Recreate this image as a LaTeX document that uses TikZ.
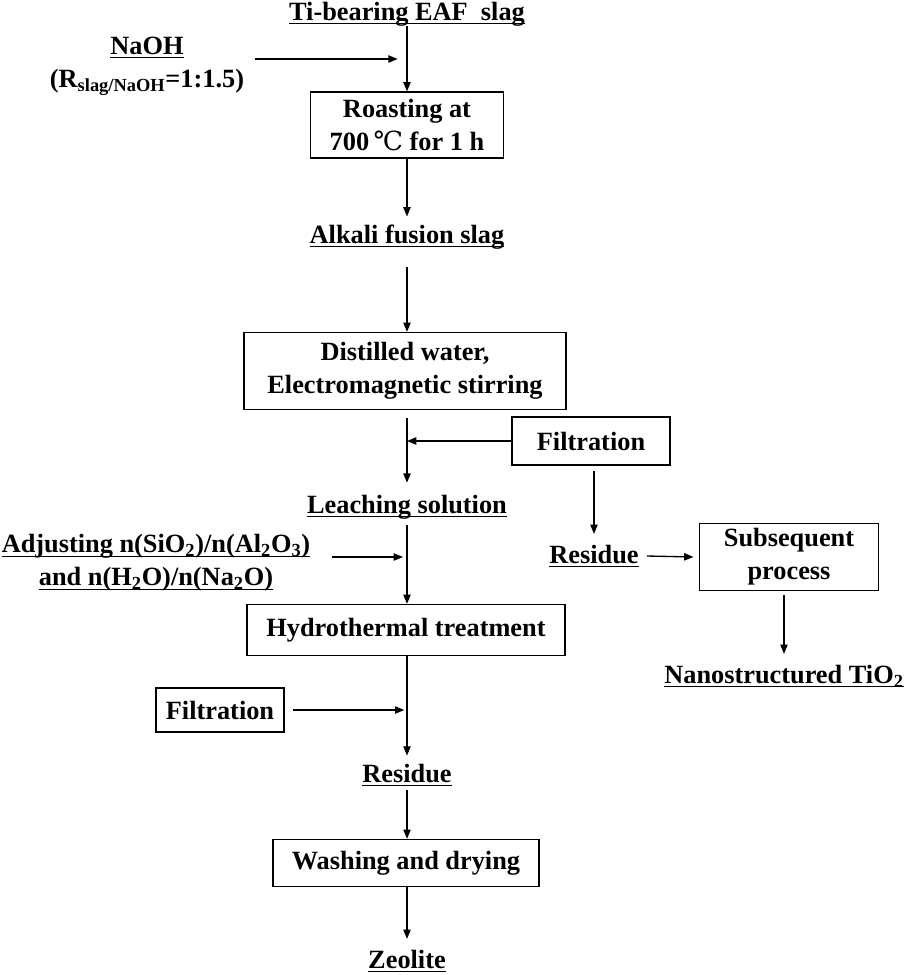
\documentclass[tikz,border=0pt]{standalone}
\usepackage{fontspec}
\setmainfont{Liberation Serif}
\newfontfamily\degfont{DejaVu Serif}
\usepackage{tikz}
\usetikzlibrary{arrows.meta}
\newcommand{\ulbox}[1]{\setbox0\hbox{#1}\rlap{\rule[-3pt]{\wd0}{1pt}}\box0}

\begin{document}
\begin{tikzpicture}[x=0.75pt,y=-0.75pt,
        every node/.style={font=\fontsize{19.75}{24.75}\selectfont\bfseries},
        box/.style={draw, line width=1pt, align=center, inner sep=0pt},
        lbl/.style={inner sep=0pt, align=center},
        arr/.style={line width=1pt, -{Triangle[length=7pt,width=5.5pt]}}]
        \useasboundingbox (0,0) rectangle (906,975);
        % Nodes
        \node[lbl] (ti) at (407,14) {\ulbox{Ti-bearing EAF\ \ slag}};
        \node[lbl] (naoh) at (147,66) {\ulbox{NaOH}\\(R\textsubscript{slag/NaOH}=1:1.5)};
        \node[box, minimum width=144.75pt, minimum height=49.5pt] (roast) at (407,125) {Roasting at\\700{\degfont\mdseries\,℃} for 1 h};
        \node[lbl] (alkali) at (407,237) {\ulbox{Alkali fusion slag}};
        \node[box, minimum width=241.5pt, minimum height=57.75pt] (distil) at (405,371) {Distilled water,\\Electromagnetic stirring};
        \node[box, minimum width=118.5pt, minimum height=36pt] (filtA) at (591,441) {Filtration};
        \node[lbl] (leach) at (407,507) {\ulbox{Leaching solution}};
        \node[lbl] (adjust) at (156,563) {\ulbox{Adjusting n(SiO\textsubscript{2})/n(Al\textsubscript{2}O\textsubscript{3})}\\\ulbox{and n(H\textsubscript{2}O)/n(Na\textsubscript{2}O)}};
        \node[lbl] (residA) at (594,556) {\ulbox{Residue}};
        \node[box, minimum width=134.25pt, minimum height=50.25pt] (subseq) at (789,557) {Subsequent\\process};
        \node[lbl] (nano) at (784,676) {\ulbox{Nanostructured TiO\textsubscript{2}}};
        \node[box, minimum width=238.5pt, minimum height=38.25pt] (hydro) at (406,630) {Hydrothermal treatment};
        \node[box, minimum width=96pt, minimum height=33pt] (filtB) at (220,710) {Filtration};
        \node[lbl] (residB) at (407,775) {\ulbox{Residue}};
        \node[box, minimum width=199.5pt, minimum height=35.25pt] (wash) at (406,863) {Washing and drying};
        \node[lbl] (zeo) at (407,961) {\ulbox{Zeolite}};
        \coordinate (jn) at (407,59);
        \coordinate (ja) at (407,557);
        % Edges
        \draw[arr] (ti.south) -- (ti.south |- roast.north);
        \draw[arr] ([xshift=8pt]naoh.east |- jn) -- ([xshift=-7pt]jn);
        \draw[arr] (alkali.north |- roast.south) -- ([yshift=6pt]alkali.north);
        \draw[arr] ([yshift=-13pt]alkali.south) -- (alkali.south |- distil.north);
        \draw[arr] ([yshift=-6pt]leach.north |- distil.south) -- ([yshift=9pt]leach.north);
        \draw[arr] (filtA.west) -- (filtA.west -| leach.north);
        \draw[arr] ([yshift=-4pt]leach.south) -- (leach.south |- hydro.north);
        \draw[arr] ([xshift=16pt]adjust.east |- ja) -- ([xshift=-3pt]ja);
        \draw[arr] ([yshift=-4pt]residA.north |- filtA.south) -- ([yshift=8pt]residA.north);
        \draw[arr] ([xshift=6pt]residA.east) -- ([xshift=-4pt]subseq.west);
        \draw[arr] ([yshift=-3pt]nano.north |- subseq.south) -- ([yshift=8pt]nano.north);
        \draw[arr] (residB.north |- hydro.south) -- ([yshift=6pt]residB.north);
        \draw[arr] ([xshift=6pt]filtB.east) -- ([xshift=-2pt]filtB.east -| residB.north);
        \draw[arr] ([yshift=-3pt]residB.south) -- (residB.south |- wash.north);
        \draw[arr] (zeo.north |- wash.south) -- ([yshift=8pt]zeo.north);
    \end{tikzpicture}
\end{document}
